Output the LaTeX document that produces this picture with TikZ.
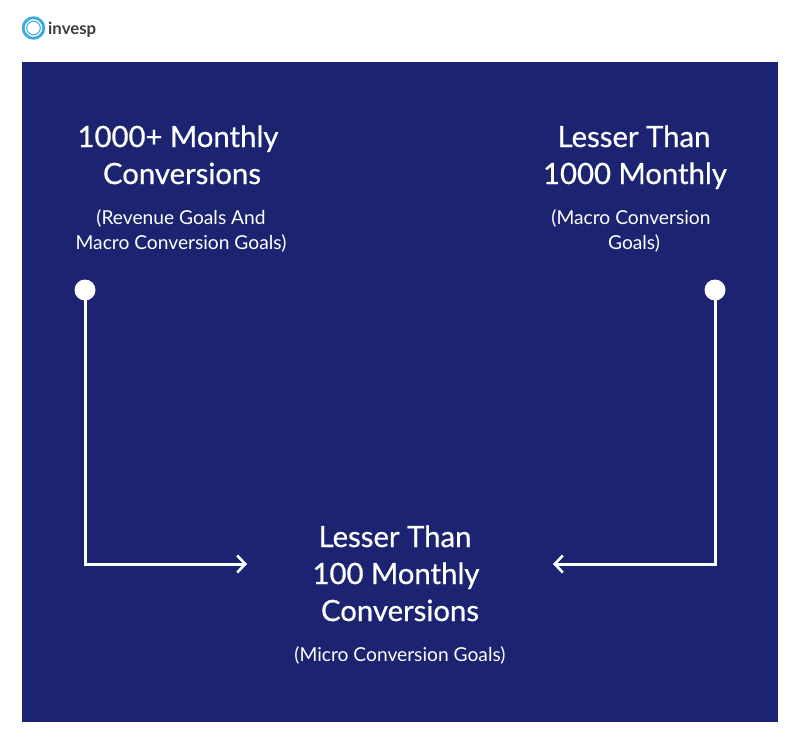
\documentclass[tikz,border=0pt]{standalone}
\usepackage{fontspec}
\setmainfont{Lato}
\usetikzlibrary{arrows.meta}
\definecolor{navy}{HTML}{1C2371}
\definecolor{ringblue}{HTML}{3AA9E0}
\definecolor{logogray}{HTML}{3C3C3C}
\tikzset{
  head/.style={text=white,font=\fontsize{29.3}{34}\selectfont\addfontfeature{FakeBold=0.6},inner sep=0,anchor=base},
  sub/.style={text=white,font=\fontsize{19.2}{22}\selectfont,inner sep=0,anchor=base},
  dot/.style={circle,fill=white,minimum size=21pt,inner sep=0},
  link/.style={draw=white,line width=3pt,line join=miter,-{Straight Barb[length=8pt,width=17pt,line width=2.6pt]}}
}
\begin{document}
\begin{tikzpicture}[x=1pt,y=-1pt]
\useasboundingbox (0,0) rectangle (800,747);
\fill[white] (0,0) rectangle (800,747);
\fill[navy] (22,62) rectangle (778,722);
% logo
\draw[ringblue,line width=2.8pt] (33.5,28) circle (10.3);
\draw[ringblue,line width=1pt] (33.5,28) circle (6.8);
\node[inner sep=0,anchor=base west,text=logogray,font=\fontsize{16.8}{18}\selectfont\bfseries] (logo) at (48,34) {invesp};
% left
\node[head] (l1) at (178,147) {1000+ Monthly};
\node[head] (l2) at (182,184) {Conversions};
\node[sub] (l3) at (181,224) {(Revenue Goals And};
\node[sub] (l4) at (181,249) {Macro Conversion Goals)};
% right
\node[head] (r1) at (634,147) {Lesser Than};
\node[head] (r2) at (635,184) {1000 Monthly};
\node[sub] (r3) at (631,224) {(Macro Conversion};
\node[sub] (r4) at (634,249) {Goals)};
% bottom
\node[head] (b1) at (395,547) {Lesser Than};
\node[head] (b2) at (396,584) {100 Monthly};
\node[head] (b3) at (400,621) {Conversions};
\node[sub] (b4) at (400,661) {(Micro Conversion Goals)};
% dots
\node[dot] (dl) at (85,290) {};
\node[dot] (dr) at (715,290) {};
\coordinate (tl) at (247,564);
\coordinate (tr) at (553,564);
\draw[link] (dl.center) |- (tl);
\draw[link] (dr.center) |- (tr);
\end{tikzpicture}
\end{document}
